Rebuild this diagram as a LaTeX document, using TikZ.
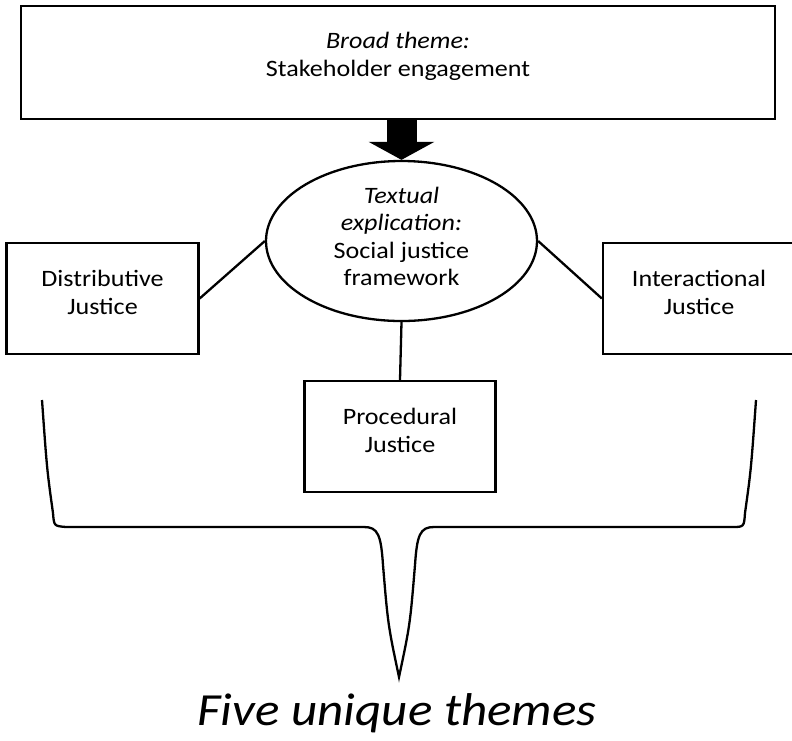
\documentclass[tikz,border=0pt]{standalone}
\usepackage{fontspec}
\setmainfont{Carlito}[FakeStretch=1.11]
\usetikzlibrary{shapes.geometric,arrows.meta}
\tikzset{
  box/.style={draw, line width=2.3pt, rectangle, inner sep=0pt, align=center, text depth=11.5pt, font=\fontsize{23.5}{28}\selectfont},
  topbox/.style={box, text depth=16pt, font=\fontsize{23.5}{27.5}\selectfont},
  ellbox/.style={draw, line width=2.3pt, ellipse, inner sep=0pt, align=center, text depth=9pt, font=\fontsize{23.5}{27.5}\selectfont},
  link/.style={line width=2.3pt},
  bigarrow/.style={line width=30pt, -{Triangle[width=65pt,length=18pt]}},
}
\begin{document}
\begin{tikzpicture}[x=1pt,y=-1pt]
\useasboundingbox (0,0) rectangle (792,740);
\node[topbox, minimum width=754pt, minimum height=113pt] (top) at (398,62.5) {\textit{Broad theme:}\\Stakeholder engagement};
\node[ellbox, minimum width=271pt, minimum height=160pt] (ell) at (401.5,241) {\textit{Textual}\\\textit{explication:}\\Social justice\\framework};
\node[box, minimum width=192pt, minimum height=111pt] (dist) at (102.5,298.5) {Distributive\\Justice};
\node[box, minimum width=192pt, minimum height=111pt] (inter) at (699,298.5) {Interactional\\Justice};
\node[box, minimum width=191pt, minimum height=111pt] (proc) at (400,436.5) {Procedural\\Justice};
\draw[bigarrow] (top.south -| ell.north) -- (ell.north);
\draw[link] (ell.west) -- (dist.east);
\draw[link] (ell.east) -- (inter.west);
\draw[link] (ell.south) -- (proc.north);
\coordinate (bl) at (42,400);
\coordinate (br) at (756,400);
\coordinate (tip) at (399,677);
\draw[link] (bl) .. controls (47,470) .. (53,513) .. controls (54,526) .. (66,527) -- (364,527)
  .. controls (378,527) and (381,535) .. (383,565) .. controls (388,625) .. (tip)
  .. controls (410,625) .. (415,565) .. controls (417,535) and (420,527) .. (434,527) -- (732,527)
  .. controls (744,527) .. (745,513) .. controls (751,470) .. (br);
\node[font=\fontsize{46}{50}\selectfont\itshape] (five) at (397,713) {Five unique themes};
\end{tikzpicture}
\end{document}
